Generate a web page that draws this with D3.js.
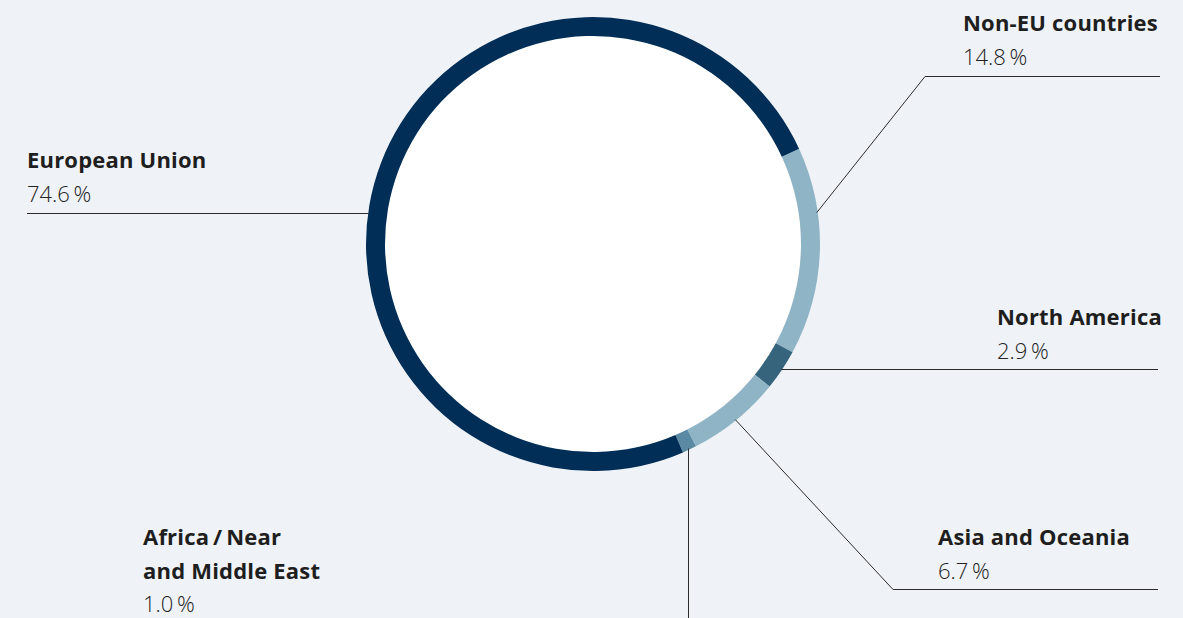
<!DOCTYPE html>
<html><head><meta charset="utf-8">
<script src="https://cdn.jsdelivr.net/npm/d3@7"></script>
<style>
html,body{margin:0;padding:0;background:#eff3f7;}
svg{display:block;}
text{font-family:"Open Sans",Roboto,"Liberation Sans",sans-serif;}
</style></head>
<body>
<svg id="c" width="1183" height="618"></svg>
<script>
const categories = ["Non-EU countries", "North America", "Asia and Oceania", "Africa / Near and Middle East", "European Union"];
const titleLines = [["Non-EU countries"], ["North America"], ["Asia and Oceania"], ["Africa\u2009/\u2009Near", "and Middle East"], ["European Union"]];
const values = [14.8, 2.9, 6.7, 1.0, 74.6];
const valueLabels = ["14.8\u2009%", "2.9\u2009%", "6.7\u2009%", "1.0\u2009%", "74.6\u2009%"];

const colors = ["#8fb4c6", "#36647c", "#8fb4c6", "#5a89a3", "#002e57"];
// label layout: anchor angle (deg), elbow, end, text x, first baseline
const layout = [
  {ang: 82,  elbow: [925, 76.5],  end: [1160, 76.5], tx: 963, ty: 31},
  {ang: null, elbow: null, end: [1158, 369.5], tx: 997, ty: 325},
  {ang: null, elbow: [893, 589.5], end: [1158, 589.5], tx: 938, ty: 545},
  {ang: null, elbow: null, end: [688.5, 620], tx: 143, ty: 545},
  {ang: 278, elbow: null, end: [27, 213.5], tx: 27, ty: 168}
];

const svg = d3.select("#c");
const cx = 593, cy = 244, rOuter = 227, rInner = 208;
const g = svg.append("g").attr("transform", `translate(${cx},${cy})`);
const start = 65.2 * Math.PI / 180;
const pie = d3.pie().sort(null).value(d => d).startAngle(start).endAngle(start + 2 * Math.PI);
const arcs = pie(values);
const arc = d3.arc().innerRadius(rInner).outerRadius(rOuter);

g.append("circle").attr("r", rInner).attr("fill", "#ffffff");
g.selectAll("path.seg").data(arcs).enter().append("path")
  .attr("class", "seg").attr("d", arc).attr("fill", (d, i) => colors[i]);

// leader lines
arcs.forEach((a, i) => {
  const L = layout[i];
  const ang = L.ang !== null ? L.ang * Math.PI / 180 : (a.startAngle + a.endAngle) / 2;
  const r = rOuter - 1;
  let p0 = [cx + r * Math.sin(ang), cy - r * Math.cos(ang)];
  const pts = [p0];
  if (L.elbow) pts.push(L.elbow);
  if (!L.elbow) {
    if (L.end[1] > 600) { p0[0] = L.end[0]; }
    else { p0[1] = L.end[1]; }
  }
  pts.push(L.end);
  svg.append("path").attr("d", d3.line()(pts)).attr("fill", "none")
    .attr("stroke", "#2b2b2b").attr("stroke-width", 1);
});

// labels
arcs.forEach((a, i) => {
  const L = layout[i];
  const t = svg.append("g");
  titleLines[i].forEach((ln, k) => {
    t.append("text").attr("x", L.tx).attr("y", L.ty + k * 33.5)
      .attr("font-size", 22).attr("letter-spacing", 0.2).attr("font-weight", 700).attr("fill", "#1e1e1e").text(ln);
  });
  t.append("text").attr("x", L.tx).attr("y", L.ty + titleLines[i].length * 33.5)
    .attr("font-size", 22).attr("font-weight", 300).attr("fill", "#222").text(valueLabels[i]);
});
</script>
</body></html>
